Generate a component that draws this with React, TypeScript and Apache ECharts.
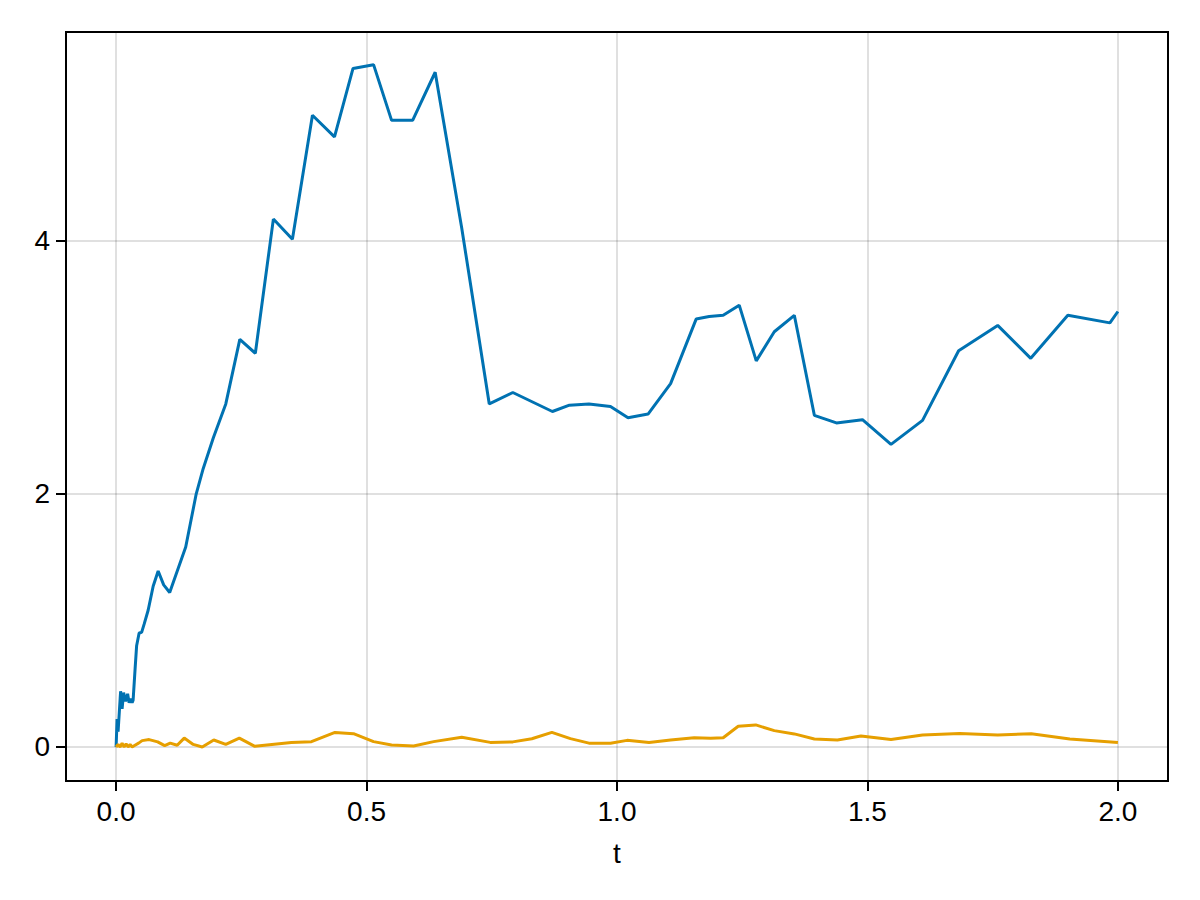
import React, { useEffect, useRef } from "react";
import * as echarts from "echarts";

// Series 1 (blue)
const blueT = [
  0, 0.002, 0.004, 0.009, 0.012, 0.015, 0.019, 0.023, 0.026, 0.029, 0.032, 0.034,
  0.038, 0.041, 0.046, 0.051, 0.056, 0.064, 0.074, 0.084, 0.095, 0.107, 0.139,
  0.16, 0.174, 0.194, 0.219, 0.247, 0.278, 0.314, 0.352, 0.392, 0.436, 0.473,
  0.514, 0.55, 0.592, 0.637, 0.69, 0.745, 0.792, 0.871, 0.905, 0.944, 0.987,
  1.022, 1.062, 1.107, 1.158, 1.184, 1.212, 1.244, 1.278, 1.314, 1.354, 1.394,
  1.438, 1.49, 1.547, 1.61, 1.682, 1.76, 1.826, 1.9, 1.984, 2.0,
];
const blueY = [
  0, 0.22, 0.12, 0.44, 0.3, 0.43, 0.36, 0.42, 0.35, 0.38, 0.35, 0.37,
  0.62, 0.8, 0.9, 0.905, 0.97, 1.08, 1.27, 1.39, 1.28, 1.22, 1.58,
  2.0, 2.2, 2.44, 2.71, 3.22, 3.11, 4.17, 4.01, 4.99, 4.82, 5.36,
  5.39, 4.95, 4.95, 5.33, 4.1, 2.71, 2.8, 2.65, 2.7, 2.71, 2.69,
  2.6, 2.63, 2.87, 3.38, 3.4, 3.41, 3.49, 3.05, 3.28, 3.41, 2.62,
  2.56, 2.585, 2.39, 2.58, 3.13, 3.33, 3.07, 3.41, 3.35, 3.44,
];

// Series 2 (orange)
const orangeT = [
  0, 0.004, 0.008, 0.012, 0.016, 0.02, 0.024, 0.028, 0.032, 0.036, 0.045, 0.052,
  0.066, 0.083, 0.097, 0.108, 0.122, 0.136, 0.154, 0.172, 0.195, 0.219, 0.246,
  0.277, 0.35, 0.39, 0.437, 0.474, 0.514, 0.55, 0.594, 0.634, 0.69, 0.747, 0.792,
  0.83, 0.87, 0.907, 0.944, 0.987, 1.02, 1.064, 1.107, 1.154, 1.187, 1.212, 1.242,
  1.277, 1.314, 1.354, 1.394, 1.44, 1.487, 1.547, 1.61, 1.684, 1.76, 1.827, 1.904,
  2.0,
];
const orangeY = [
  0, 0.02, 0.0, 0.03, 0.0, 0.025, 0.0, 0.02, 0.0, 0.01, 0.03, 0.05,
  0.058, 0.04, 0.01, 0.03, 0.013, 0.07, 0.02, 0.0, 0.055, 0.02, 0.07,
  0.005, 0.036, 0.042, 0.115, 0.105, 0.042, 0.016, 0.008, 0.042, 0.076, 0.036, 0.04,
  0.065, 0.115, 0.066, 0.03, 0.03, 0.052, 0.036, 0.055, 0.073, 0.068, 0.073, 0.163,
  0.174, 0.129, 0.103, 0.063, 0.055, 0.087, 0.058, 0.095, 0.107, 0.095, 0.105, 0.063,
  0.036,
];

const xTicks = [0, 0.5, 1.0, 1.5, 2.0];
const yTicks = [0, 2, 4];

const FONT = "'Liberation Sans', Arial, Helvetica, sans-serif";

export default function App() {
  const ref = useRef<HTMLDivElement>(null);
  useEffect(() => {
    if (!ref.current) return;
    const chart = echarts.init(ref.current, undefined, { renderer: "svg" });
    const gridLine = { show: true, lineStyle: { color: "rgba(0,0,0,0.12)", width: 2 } };
    chart.setOption({
      animation: false,
      backgroundColor: "#ffffff",
      grid: {
        left: 66,
        right: 32,
        top: 32,
        bottom: 119,
        show: true,
        borderColor: "#000",
        borderWidth: 2,
        containLabel: false,
      },
      xAxis: {
        type: "value",
        min: -0.1,
        max: 2.1,
        name: "t",
        nameLocation: "middle",
        nameGap: 58,
        nameTextStyle: { fontFamily: FONT, fontSize: 28, color: "#000" },
        axisLine: { show: true, onZero: false, lineStyle: { color: "#000", width: 2 } },
        axisTick: { show: true, inside: false, length: 10, lineStyle: { color: "#000", width: 2 }, customValues: xTicks },
        axisLabel: {
          show: true,
          margin: 16,
          fontFamily: FONT,
          fontSize: 28,
          color: "#000",
          customValues: xTicks,
          formatter: (v: number) => v.toFixed(1),
        },
        splitLine: gridLine,
      },
      yAxis: {
        type: "value",
        min: -0.269,
        max: 5.648,
        axisLine: { show: true, onZero: false, lineStyle: { color: "#000", width: 2 } },
        axisTick: { show: true, inside: false, length: 10, lineStyle: { color: "#000", width: 2 }, customValues: yTicks },
        axisLabel: {
          show: true,
          margin: 16,
          fontFamily: FONT,
          fontSize: 28,
          color: "#000",
          customValues: yTicks,
          formatter: (v: number) => String(Math.round(v)),
        },
        splitLine: gridLine,
      },
      series: [
        {
          type: "line",
          data: blueT.map((t, i) => [t, blueY[i]]),
          showSymbol: false,
          lineStyle: { color: "#0072B2", width: 3 },
          itemStyle: { color: "#0072B2" },
          z: 3,
        },
        {
          type: "line",
          data: orangeT.map((t, i) => [t, orangeY[i]]),
          showSymbol: false,
          lineStyle: { color: "#E69F00", width: 3 },
          itemStyle: { color: "#E69F00" },
          z: 4,
        },
      ],
    });
    return () => chart.dispose();
  }, []);
  return <div ref={ref} style={{ width: 1200, height: 900, margin: -8 }} />;
}
